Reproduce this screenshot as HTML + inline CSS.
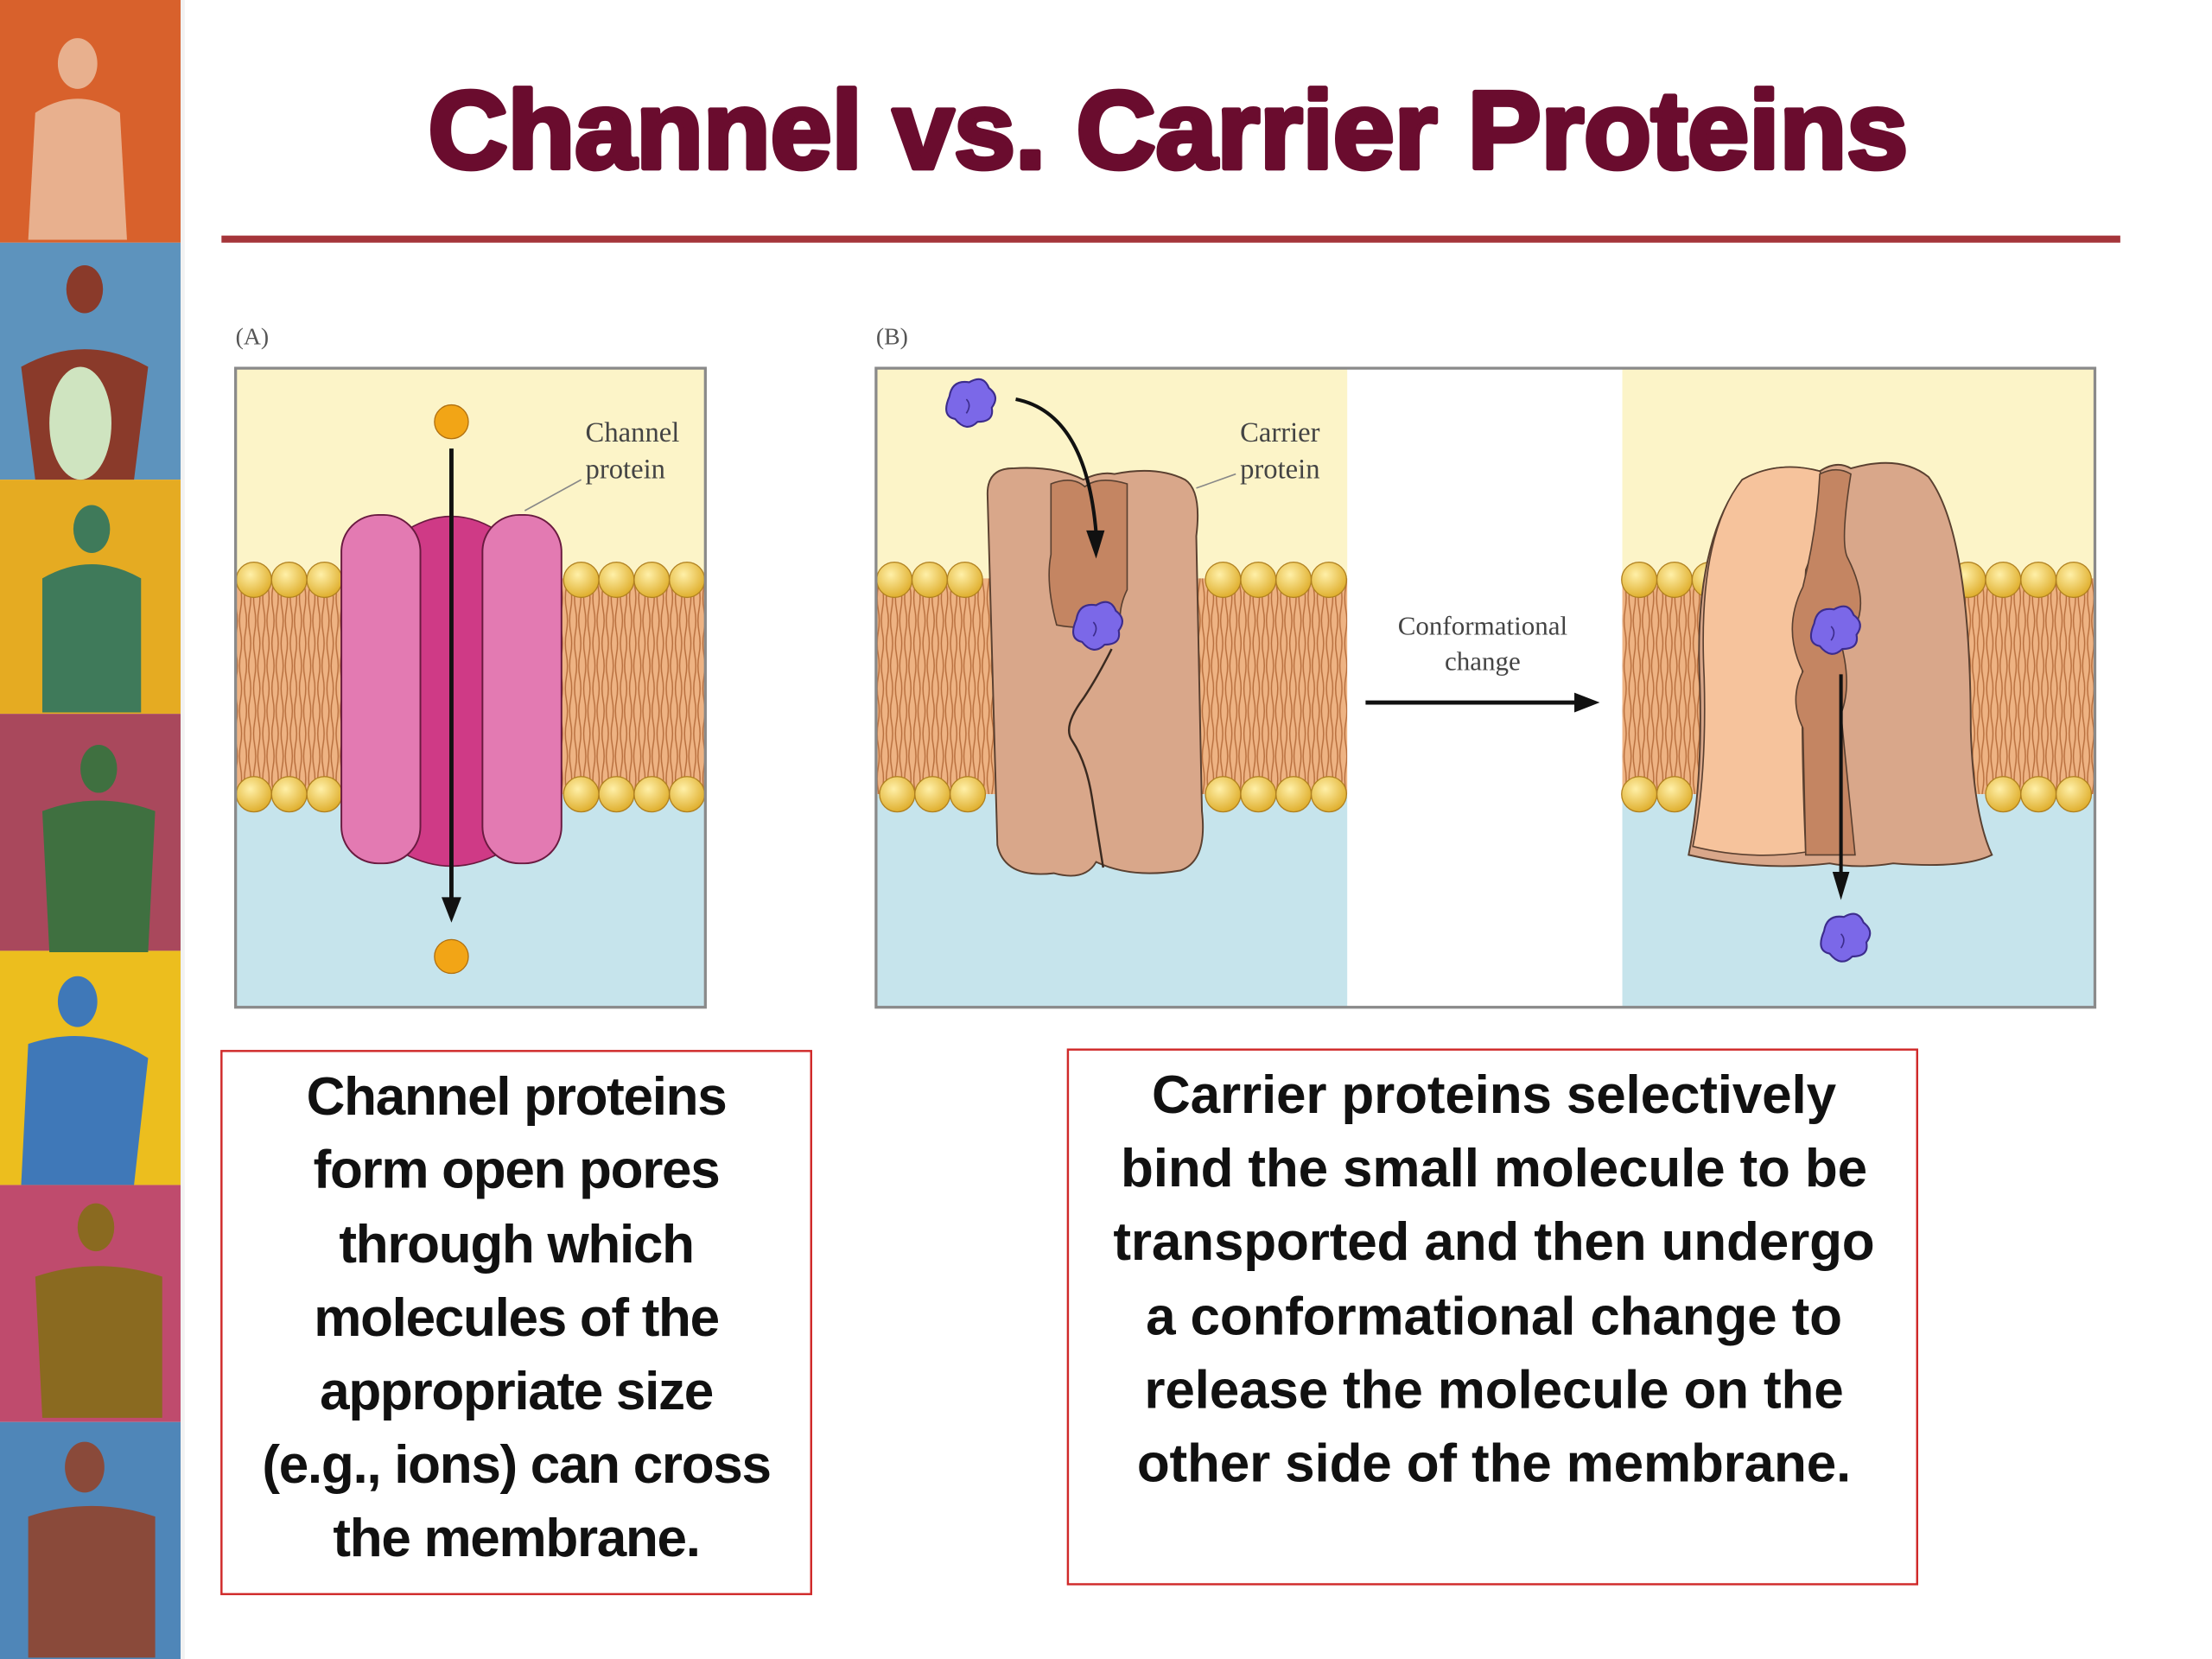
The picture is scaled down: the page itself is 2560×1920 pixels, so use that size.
<!DOCTYPE html>
<html><head><meta charset="utf-8"><style>
html,body{margin:0;padding:0;background:#fff;}
svg{display:block;}
</style></head><body>
<svg width="2560" height="1920" viewBox="0 0 1568 1176" preserveAspectRatio="none" xmlns="http://www.w3.org/2000/svg">
<defs>
<pattern id="tails" x="0" y="0" width="6.5" height="64" patternUnits="userSpaceOnUse">
<rect width="6.5" height="64" fill="#eeb383"/>
<path d="M1.5 0 q1.5 8 0 16 q-1.5 8 0 16 q1.5 8 0 16 q-1.5 8 0 16 M5 0 q-1.5 8 0 16 q1.5 8 0 16 q-1.5 8 0 16 q1.5 8 0 16" stroke="#b86f3e" stroke-width="0.9" fill="none"/>
</pattern>
<radialGradient id="head" cx="40%" cy="35%" r="65%"><stop offset="0" stop-color="#fff0a8"/><stop offset="1" stop-color="#e0b030"/></radialGradient>
<g id="mol"><path d="M-14 -8 q2 -12 14 -10 q10 -6 14 4 q8 6 2 14 q2 10 -10 10 q-8 8 -16 -2 q-10 -2 -4 -16z" fill="#7b68e8" stroke="#3c2c8c" stroke-width="1.3"/><path d="M-2 -6 q4 4 0 10" stroke="#3c2c8c" stroke-width="1" fill="none"/></g>
</defs>

<!-- left strip -->
<rect x="0" y="0" width="130" height="172" fill="#d8612c"/>
<rect x="0" y="172" width="130" height="168" fill="#5d93bd"/>
<rect x="0" y="340" width="130" height="166" fill="#e5ab22"/>
<rect x="0" y="506" width="130" height="168" fill="#a9485c"/>
<rect x="0" y="674" width="130" height="166" fill="#ecbe1e"/>
<rect x="0" y="840" width="130" height="168" fill="#bf4b6d"/>
<rect x="0" y="1008" width="130" height="168" fill="#4f86b8"/>
<g fill="#e8b08e"><ellipse cx="55" cy="45" rx="14" ry="18"/><path d="M25 80 q30 -20 60 0 l5 90 h-70z"/></g>
<g fill="#8a3a2a"><ellipse cx="60" cy="205" rx="13" ry="17"/><path d="M15 260 q45 -25 90 0 l-10 80 h-70z"/></g>
<ellipse cx="57" cy="300" rx="22" ry="40" fill="#cfe4c0"/>
<g fill="#3f7a5a"><ellipse cx="65" cy="375" rx="13" ry="17"/><path d="M30 410 q35 -20 70 0 l0 95 h-70z"/></g>
<g fill="#3f7040"><ellipse cx="70" cy="545" rx="13" ry="17"/><path d="M30 575 q40 -15 80 0 l-5 100 h-70z"/></g>
<g fill="#3f78b8"><ellipse cx="55" cy="710" rx="14" ry="18"/><path d="M20 740 q45 -15 85 10 l-10 90 h-80z"/></g>
<g fill="#8a6a20"><ellipse cx="68" cy="870" rx="13" ry="17"/><path d="M25 905 q45 -15 90 0 l0 100 h-85z"/></g>
<g fill="#8a4a3a"><ellipse cx="60" cy="1040" rx="14" ry="18"/><path d="M20 1075 q45 -15 90 0 l0 100 h-90z"/></g>
<rect x="128" y="0" width="3" height="1176" fill="#f2f2f2"/>

<!-- title -->
<text x="828" y="119" text-anchor="middle" font-family="Liberation Sans, sans-serif" font-weight="bold" font-size="78" fill="#6a0c2e" letter-spacing="0" stroke="#6a0c2e" stroke-width="3.5" stroke-linejoin="round">Channel vs. Carrier Proteins</text>
<rect x="157" y="167" width="1346" height="5" fill="#a5353a"/>

<!-- labels -->
<text x="167" y="244" font-family="Liberation Serif, serif" font-size="17" fill="#555">(A)</text>
<text x="621" y="244" font-family="Liberation Serif, serif" font-size="17" fill="#555">(B)</text>

<!-- Panel A -->
<rect x="167" y="261" width="333" height="150" fill="#fcf4c8"/>
<rect x="167" y="410" width="333" height="153" fill="url(#tails)"/>
<rect x="167" y="563" width="333" height="151" fill="#c6e4ec"/>
<g fill="url(#head)" stroke="#b08020" stroke-width="0.8">
<circle cx="180" cy="411" r="12.5"/><circle cx="205" cy="411" r="12.5"/><circle cx="230" cy="411" r="12.5"/>
<circle cx="412" cy="411" r="12.5"/><circle cx="437" cy="411" r="12.5"/><circle cx="462" cy="411" r="12.5"/><circle cx="487" cy="411" r="12.5"/>
<circle cx="180" cy="563" r="12.5"/><circle cx="205" cy="563" r="12.5"/><circle cx="230" cy="563" r="12.5"/>
<circle cx="412" cy="563" r="12.5"/><circle cx="437" cy="563" r="12.5"/><circle cx="462" cy="563" r="12.5"/><circle cx="487" cy="563" r="12.5"/>
</g>
<path d="M282 380 q38 -28 76 0 l4 220 q-42 28 -84 0z" fill="#cf3a86" stroke="#6a1a40" stroke-width="1"/>
<rect x="242" y="365" width="56" height="247" rx="26" fill="#e37ab2" stroke="#6a1a40" stroke-width="1.2"/>
<rect x="342" y="365" width="56" height="247" rx="26" fill="#e37ab2" stroke="#6a1a40" stroke-width="1.2"/>
<circle cx="320" cy="299" r="12" fill="#f2a516" stroke="#b07010" stroke-width="0.8"/>
<circle cx="320" cy="678" r="12" fill="#f2a516" stroke="#b07010" stroke-width="0.8"/>
<line x1="320" y1="318" x2="320" y2="640" stroke="#111" stroke-width="3"/>
<path d="M313 636 l7 18 l7 -18z" fill="#111"/>
<line x1="372" y1="362" x2="412" y2="340" stroke="#888" stroke-width="1"/>
<text x="415" y="313" font-family="Liberation Serif, serif" font-size="20" fill="#444">Channel</text>
<text x="415" y="339" font-family="Liberation Serif, serif" font-size="20" fill="#444">protein</text>
<rect x="167" y="261" width="333" height="453" fill="none" stroke="#8a8a8a" stroke-width="2"/>

<!-- Panel B -->
<rect x="621" y="261" width="334" height="150" fill="#fcf4c8"/>
<rect x="621" y="410" width="334" height="153" fill="url(#tails)"/>
<rect x="621" y="563" width="334" height="151" fill="#c6e4ec"/>
<rect x="1150" y="261" width="335" height="150" fill="#fcf4c8"/>
<rect x="1150" y="410" width="335" height="153" fill="url(#tails)"/>
<rect x="1150" y="563" width="335" height="151" fill="#c6e4ec"/>
<g fill="url(#head)" stroke="#b08020" stroke-width="0.8">
<circle cx="634" cy="411" r="12.5"/><circle cx="659" cy="411" r="12.5"/><circle cx="684" cy="411" r="12.5"/>
<circle cx="867" cy="411" r="12.5"/><circle cx="892" cy="411" r="12.5"/><circle cx="917" cy="411" r="12.5"/><circle cx="942" cy="411" r="12.5"/>
<circle cx="636" cy="563" r="12.5"/><circle cx="661" cy="563" r="12.5"/><circle cx="686" cy="563" r="12.5"/>
<circle cx="867" cy="563" r="12.5"/><circle cx="892" cy="563" r="12.5"/><circle cx="917" cy="563" r="12.5"/><circle cx="942" cy="563" r="12.5"/>
<circle cx="1162" cy="411" r="12.5"/><circle cx="1187" cy="411" r="12.5"/><circle cx="1212" cy="411" r="12.5"/>
<circle cx="1395" cy="411" r="12.5"/><circle cx="1420" cy="411" r="12.5"/><circle cx="1445" cy="411" r="12.5"/><circle cx="1470" cy="411" r="12.5"/>
<circle cx="1162" cy="563" r="12.5"/><circle cx="1187" cy="563" r="12.5"/>
<circle cx="1420" cy="563" r="12.5"/><circle cx="1445" cy="563" r="12.5"/><circle cx="1470" cy="563" r="12.5"/>
</g>
<!-- left carrier -->
<path d="M700 350 q0 -18 18 -18 q30 -2 50 8 q12 -6 22 -4 q30 -6 50 4 q12 8 8 40 l4 195 q4 35 -15 42 q-35 6 -60 -6 q-8 14 -30 8 q-35 4 -40 -20z" fill="#d9a78a" stroke="#5a4030" stroke-width="1.2"/>
<path d="M745 343 q15 -6 24 2 q10 -8 30 -2 l0 75 q-5 10 -5 20 q-20 10 -45 5 q-8 -30 -4 -50z" fill="#c48562" stroke="#5a4030" stroke-width="1"/>
<path d="M788 460 q-10 20 -20 35 q-15 20 -8 30 q10 15 14 40 l8 50" fill="none" stroke="#3a2a20" stroke-width="1.5"/>
<use href="#mol" x="777" y="447"/>
<use href="#mol" x="687" y="289"/>
<path d="M720 283 q50 10 57 95" fill="none" stroke="#111" stroke-width="2.5"/>
<path d="M770 376 l7 20 l6 -20z" fill="#111"/>
<line x1="848" y1="346" x2="876" y2="336" stroke="#888" stroke-width="1"/>
<text x="879" y="313" font-family="Liberation Serif, serif" font-size="20" fill="#444">Carrier</text>
<text x="879" y="339" font-family="Liberation Serif, serif" font-size="20" fill="#444">protein</text>
<!-- right carrier -->
<path d="M1235 340 q25 -14 55 -6 q12 -8 22 -2 q35 -10 55 6 q30 40 30 180 q2 60 15 88 q-20 10 -70 6 q-25 4 -45 0 q-50 6 -100 -6 q10 -50 8 -120 q-5 -100 30 -146z" fill="#d9a78a" stroke="#5a4030" stroke-width="1.2"/>
<path d="M1235 340 q25 -14 55 -6 q10 20 -10 70 q-5 90 0 200 q-40 6 -80 -4 q10 -50 8 -120 q-5 -100 27 -140z" fill="#f6c39c" stroke="#5a4030" stroke-width="1"/>
<path d="M1290 336 q12 -6 22 0 q-8 50 -2 60 q20 40 -5 60 q8 30 0 50 l10 100 h-35 l-2 -90 q-10 -20 0 -40 q-15 -30 0 -60 q10 -40 12 -80z" fill="#c48562" stroke="#5a4030" stroke-width="1"/>
<use href="#mol" x="1300" y="450"/>
<use href="#mol" x="1307" y="668"/>
<line x1="1305" y1="478" x2="1305" y2="622" stroke="#111" stroke-width="2.5"/>
<path d="M1299 618 l6 20 l6 -20z" fill="#111"/>
<!-- middle -->
<text x="1051" y="450" text-anchor="middle" font-family="Liberation Serif, serif" font-size="19" fill="#444">Conformational</text>
<text x="1051" y="475" text-anchor="middle" font-family="Liberation Serif, serif" font-size="19" fill="#444">change</text>
<line x1="968" y1="498" x2="1120" y2="498" stroke="#111" stroke-width="3"/>
<path d="M1116 491 l18 7 l-18 7z" fill="#111"/>
<rect x="621" y="261" width="864" height="453" fill="none" stroke="#8a8a8a" stroke-width="2"/>

<!-- text boxes -->
<rect x="157" y="745" width="418" height="385" fill="#fff" stroke="#d02a2a" stroke-width="1.5"/>
<rect x="757" y="744" width="602" height="379" fill="#fff" stroke="#d02a2a" stroke-width="1.5"/>
<g font-family="Liberation Sans, sans-serif" font-weight="bold" font-size="38" fill="#111" text-anchor="middle" letter-spacing="-0.8">
<text x="366" y="790">Channel proteins</text>
<text x="366" y="842">form open pores</text>
<text x="366" y="895">through which</text>
<text x="366" y="947">molecules of the</text>
<text x="366" y="999">appropriate size</text>
<text x="366" y="1051">(e.g., ions) can cross</text>
<text x="366" y="1103">the membrane.</text>
</g>
<g font-family="Liberation Sans, sans-serif" font-weight="bold" font-size="38" fill="#111" text-anchor="middle" letter-spacing="-0.1">
<text x="1059" y="789">Carrier proteins selectively</text>
<text x="1059" y="841">bind the small molecule to be</text>
<text x="1059" y="893">transported and then undergo</text>
<text x="1059" y="946">a conformational change to</text>
<text x="1059" y="998">release the molecule on the</text>
<text x="1059" y="1050">other side of the membrane.</text>
</g>
</svg>
</body></html>
